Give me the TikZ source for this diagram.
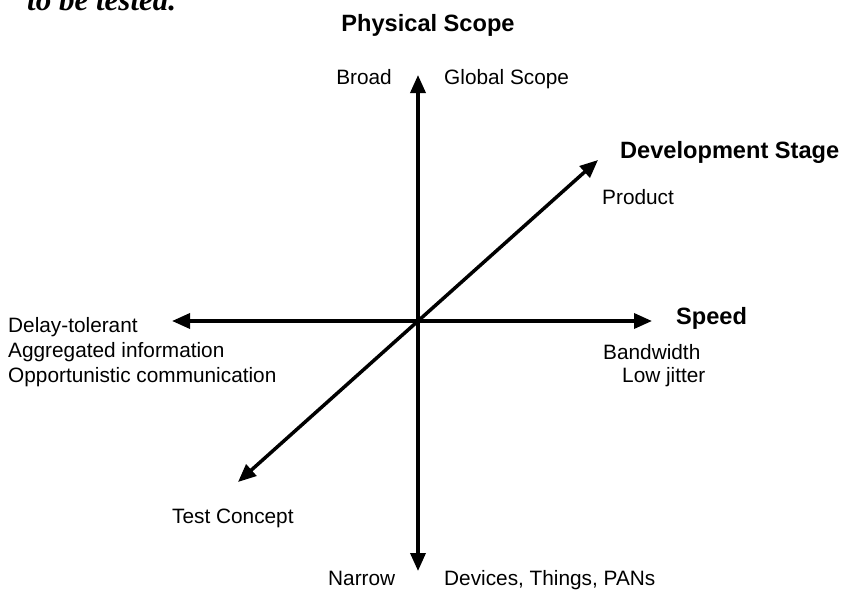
\documentclass[tikz,border=0pt]{standalone}
\usepackage{fontspec}
\setmainfont{Liberation Sans}
\newfontfamily\captionfont{Liberation Serif}
\usetikzlibrary{arrows.meta}

\begin{document}
\begin{tikzpicture}[x=1pt, y=-1pt,
    every node/.style={inner sep=0pt, font=\fontsize{20.8}{24}\selectfont},
    axis/.style={line width=3.5pt, -{Triangle[length=18pt,width=15pt]}},
    axname/.style={font=\fontsize{23.6}{28}\selectfont\bfseries}]
    \clip (0,0) rectangle (845,589);
    % cut-off line of the text above the figure
    \node[anchor=base west, font=\fontsize{31}{36}\selectfont\captionfont\bfseries\itshape] (cap) at (27,10) {to be tested.};
    % axes
    \coordinate (o) at (418,321);
    \coordinate (top) at (418,75);
    \coordinate (bottom) at (418,571);
    \coordinate (left) at (172,321);
    \coordinate (right) at (652,321);
    \coordinate (front) at (598,160);
    \coordinate (back) at (238,482);
    \draw[axis] (o) -- (top);
    \draw[axis] (o) -- (bottom);
    \draw[axis] (o) -- (left);
    \draw[axis] (o) -- (right);
    \draw[axis] (o) -- (front);
    \draw[axis] (o) -- (back);
    % axis names
    \node[axname] (scope) at (428,25) {Physical Scope};
    \node[axname, anchor=west] (stage) at (620,152) {Development Stage};
    \node[axname, anchor=west] (speed) at (676,318) {Speed};
    % ends of the axes
    \node[anchor=base east] (broad) at (392,84) {Broad};
    \node[anchor=base west] (global) at (444,84) {Global Scope};
    \node[anchor=west] (product) at (602,197) {Product};
    \node[anchor=west] (bandwidth) at (603,352) {Bandwidth};
    \node[anchor=west] (jitter) at (622,377) {Low jitter};
    \node[anchor=north west, align=left, font=\fontsize{20.8}{25}\selectfont] (delay) at (8,317) {Delay-tolerant\\Aggregated information\\Opportunistic communication};
    \node[anchor=west] (test) at (172,518) {Test Concept};
    \node[anchor=base west] (narrow) at (328,585) {Narrow};
    \node[anchor=base west] (devices) at (444,585) {Devices, Things, PANs};
\end{tikzpicture}
\end{document}
